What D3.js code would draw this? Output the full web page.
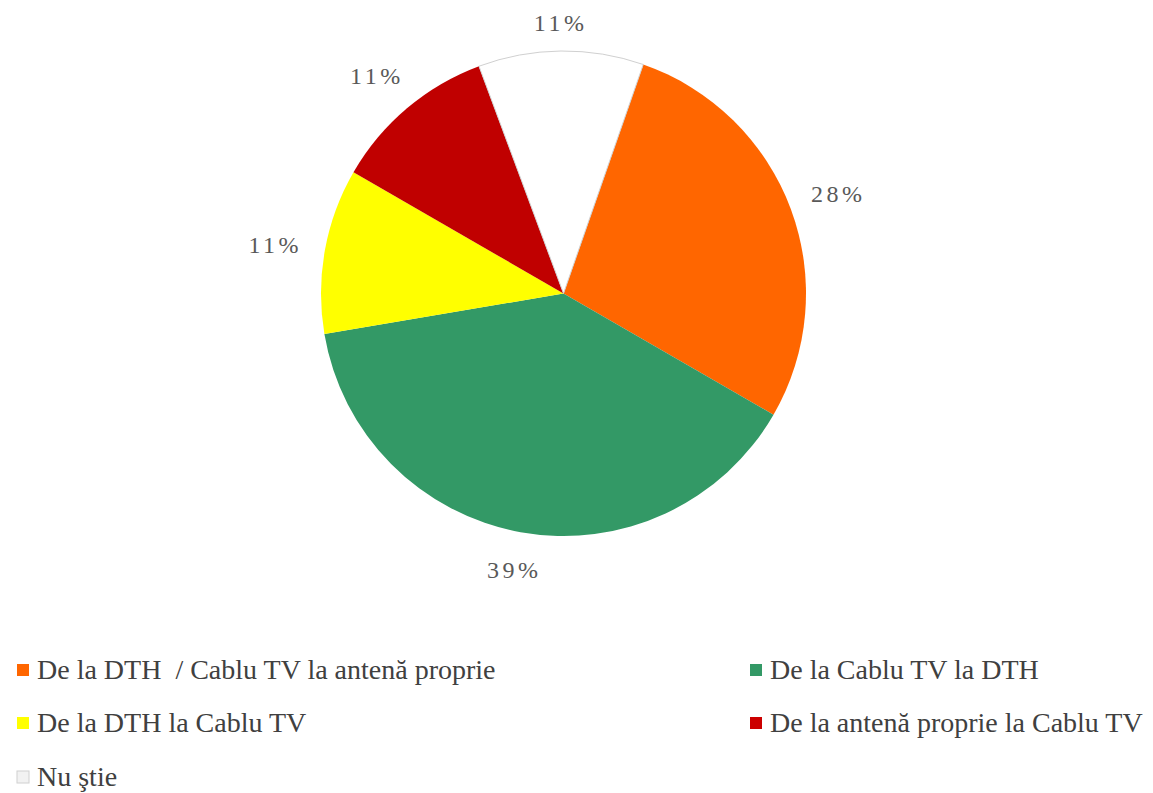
<!DOCTYPE html>
<html><head><meta charset="utf-8">
<script src="https://cdn.jsdelivr.net/npm/d3@7"></script>
<style>body{margin:0;background:#fff}</style>
</head><body>
<svg id="c" width="1153" height="793"></svg>
<script>
const categories = ["De la DTH  / Cablu TV la antenă proprie","De la Cablu TV la DTH","De la DTH la Cablu TV","De la antenă proprie la Cablu TV","Nu ştie"];
const values = [28, 39, 11, 11, 11];
const labels = ["28%","39%","11%","11%","11%"];
const colors = ["#FF6600","#339966","#FFFF00","#C00000","#FFFFFF"];
const legendColors = ["#FF6600","#339966","#FFFF00","#CC0000","#F2F2F2"];

const svg = d3.select("#c");
const cx = 563.5, cy = 293.5, R = 242.5;
const start = 19.2 * Math.PI / 180;
const pie = d3.pie().sort(null).value(d => d).startAngle(start).endAngle(start + 2 * Math.PI);
const arcs = pie(values);
const arc = d3.arc().innerRadius(0).outerRadius(R);
const g = svg.append("g").attr("transform", `translate(${cx},${cy})`);
g.selectAll("path").data(arcs).join("path")
  .attr("d", arc)
  .attr("fill", (d, i) => colors[i])
  .attr("stroke", (d, i) => i === 4 ? "#d0d0d0" : "none")
  .attr("stroke-width", 1);

// labels placed outside with a fixed gap from the pie edge
const gap = 21, halfW = 28, halfH = 10;
g.selectAll("text.lbl").data(arcs).join("text")
  .attr("class", "lbl")
  .attr("transform", d => {
    const a = (d.startAngle + d.endAngle) / 2;
    const s = Math.sin(a), c = Math.cos(a);
    const r = R + gap + halfW * Math.abs(s) + halfH * Math.abs(c);
    return `translate(${r * s},${-r * c + 3})`;
  })
  .attr("text-anchor", "middle")
  .attr("dominant-baseline", "central")
  .attr("font-family", "Liberation Serif, serif")
  .attr("font-size", 24)
  .attr("letter-spacing", 3.5)
  .attr("fill", "#595959")
  .text((d, i) => labels[i]);

const legX = [17, 750], legY = [670, 723, 777];
const leg = svg.append("g");
categories.forEach((c, i) => {
  const x = legX[i % 2], y = legY[Math.floor(i / 2)];
  leg.append("rect").attr("x", x).attr("y", y - 6).attr("width", 12).attr("height", 12)
    .attr("fill", legendColors[i]).attr("stroke", i === 4 ? "#d0d0d0" : "none");
  leg.append("text").attr("x", x + 20).attr("y", y + 9)
    .attr("font-family", "Liberation Serif, serif").attr("font-size", 28)
    .style("white-space", "pre")
    .attr("fill", "#404040").text(c);
});
</script>
</body></html>
